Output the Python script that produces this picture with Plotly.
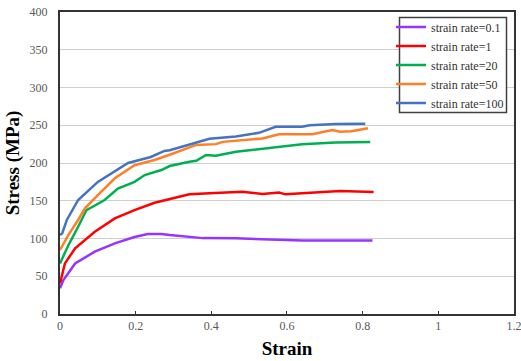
import plotly.graph_objects as go

names = ["strain rate=0.1", "strain rate=1", "strain rate=20", "strain rate=50", "strain rate=100"]
colors = ["#9933FF", "#FF0000", "#00B050", "#FF7F27", "#4472C4"]

x_01 = [0.0, 0.009, 0.04, 0.092, 0.145, 0.197, 0.232, 0.268, 0.29, 0.325, 0.377, 0.465, 0.553, 0.64, 0.73, 0.826]
y_01 = [34, 45, 67, 82.6, 93.6, 102, 106, 106, 104.5, 102.5, 100.5, 100.2, 99, 97.5, 97.5, 97.5]

x_1 = [0.0, 0.013, 0.04, 0.092, 0.145, 0.197, 0.25, 0.29, 0.342, 0.395, 0.482, 0.535, 0.579, 0.596, 0.658, 0.74, 0.829]
y_1 = [40.6, 67, 87, 109, 126.7, 137.7, 147.4, 152, 158.5, 159.8, 162, 159, 161, 158.5, 160.7, 163, 161.6]

x_20 = [0.0, 0.022, 0.048, 0.07, 0.118, 0.153, 0.197, 0.224, 0.268, 0.29, 0.342, 0.36, 0.386, 0.412, 0.465, 0.553, 0.64, 0.728, 0.82]
y_20 = [67, 91, 115.6, 137.7, 151, 166, 175, 184, 190.7, 196, 201.7, 203, 210.6, 209.7, 215, 220, 224.7, 227, 227.8]

x_50 = [0.0, 0.022, 0.048, 0.066, 0.10, 0.145, 0.197, 0.25, 0.29, 0.36, 0.412, 0.43, 0.535, 0.579, 0.667, 0.72, 0.74, 0.77, 0.814]
y_50 = [84.8, 104.6, 124.5, 140, 157.6, 179.7, 197, 204, 211, 224, 225, 228, 232.6, 238, 238, 243.7, 241.5, 242, 246]

x_100 = [0.0, 0.006, 0.018, 0.048, 0.10, 0.18, 0.24, 0.276, 0.29, 0.342, 0.395, 0.465, 0.526, 0.57, 0.64, 0.66, 0.728, 0.807]
y_100 = [104.6, 107, 124.5, 151, 175, 200, 208, 216, 217, 224, 232, 235, 240, 248, 248, 250, 251.7, 252]

xs = [x_01, x_1, x_20, x_50, x_100]
ys = [y_01, y_1, y_20, y_50, y_100]

SERIF = "Liberation Serif, Times New Roman, serif"

fig = go.Figure()
for n, c, x, y in zip(names, colors, xs, ys):
    fig.add_trace(go.Scatter(x=x, y=y, mode="lines", name=n,
                             line=dict(color=c, width=2.5)))

# legend frame
fig.add_shape(type="rect", xref="paper", yref="paper",
              x0=(399.5 - 60) / 454, x1=(506.5 - 60) / 454,
              y0=(314 - 112.5) / 302, y1=(314 - 17.5) / 302,
              line=dict(color="#404040", width=1.5), fillcolor="white", layer="above")

tickfont = dict(family=SERIF, size=12, color="#595959")
fig.update_layout(
    width=521, height=361,
    margin=dict(l=60, r=7, t=12, b=47, autoexpand=False),
    paper_bgcolor="white", plot_bgcolor="white",
    font=dict(family=SERIF),
    legend=dict(x=(391 - 60) / 454, y=(314 - 12.5) / 302, xanchor="left", yanchor="top",
                borderwidth=0, bgcolor="rgba(0,0,0,0)",
                font=dict(family=SERIF, size=12, color="#333333"),
                itemwidth=30, tracegroupgap=0),
    xaxis=dict(range=[0, 1.2001], dtick=0.2, tickfont=tickfont, automargin=False,
               ticklabeloverflow="allow",
               showgrid=False, zeroline=False,
               showline=True, linecolor="#333333", linewidth=2, mirror=True,
               ticks="inside", ticklen=3, tickcolor="#333333",
               title=dict(text="<b>Strain</b>", font=dict(family=SERIF, size=19, color="black"), standoff=9)),
    yaxis=dict(range=[0, 400], dtick=50, tickfont=tickfont, automargin=False,
               showgrid=True, gridcolor="#CFCFCF", gridwidth=1, zeroline=False,
               showline=True, linecolor="#333333", linewidth=2, mirror=True,
               ticks="", ticklabelstandoff=8,
               title=dict(text="<b>Stress (MPa)</b>", font=dict(family=SERIF, size=19, color="black"), standoff=5)),
)

fig.write_html("out.html", config={"displayModeBar": False},
               post_script="document.body.style.margin='0';document.body.style.padding='0';")
